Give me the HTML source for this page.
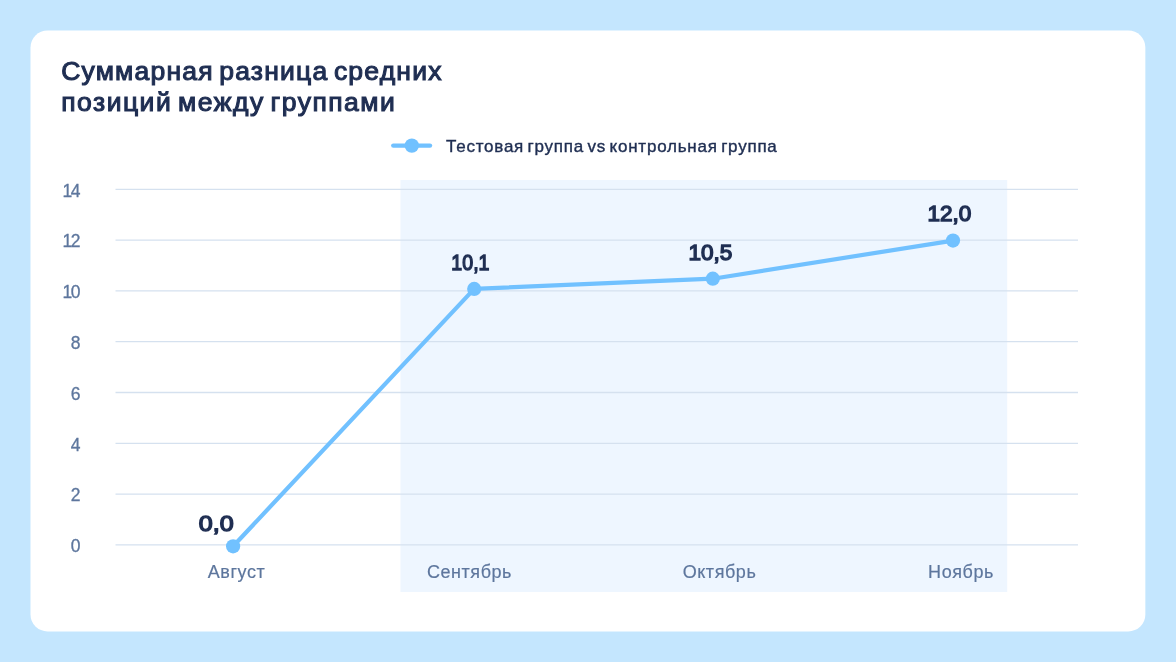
<!DOCTYPE html>
<html lang="ru">
<head>
<meta charset="utf-8">
<title>Суммарная разница средних позиций между группами</title>
<style>
  html, body { margin: 0; padding: 0; }
  body {
    width: 1176px; height: 662px; overflow: hidden;
    background: #c4e6fe;
    font-family: "Liberation Sans", sans-serif;
    position: relative;
  }
  .title {
    position: absolute; left: 61.2px; top: 55.5px;
    margin: 0; font-size: 26.5px; line-height: 31px; font-weight: 400;
    color: #1f2e52; letter-spacing: 0; white-space: nowrap;
    -webkit-text-stroke: 1.1px #1f2e52; word-spacing: -3px;
  }
  .legend {
    position: absolute; left: 446px; top: 136.5px;
    font-size: 17px; line-height: 20px; color: #1f2e52; white-space: nowrap;
    letter-spacing: 0.77px; word-spacing: -2px; -webkit-text-stroke: 0.4px #1f2e52;
  }
  svg.chart { position: absolute; left: 0; top: 0; z-index: 0; }
  .title, .legend, .ylab, .xlab, .val { z-index: 1; }
  .ylab {
    position: absolute; width: 40px; left: 40.5px; text-align: right;
    font-size: 17.5px; line-height: 18px; color: #5d769d; -webkit-text-stroke: 0.3px #5d769d;
  }
  .xlab {
    position: absolute; top: 561.7px; width: 120px; margin-left: -60px; text-align: center;
    font-size: 18px; line-height: 20px; color: #5d769d; white-space: nowrap;
    letter-spacing: 0.55px; -webkit-text-stroke: 0.2px #5d769d;
  }
  .ylab b { font-weight: 400; letter-spacing: -1.4px; }
  .val span { display: inline-block; }
  .val {
    position: absolute; width: 80px; margin-left: -40px; text-align: center;
    font-size: 22px; line-height: 26px; font-weight: 400; color: #1f2e52; -webkit-text-stroke: 1.4px #1f2e52;
    white-space: nowrap;
  }
</style>
</head>
<body>
  <h1 class="title"><span style="letter-spacing:1.2px">Суммарная разница средних</span><br><span style="letter-spacing:1.5px">позиций между группами</span></h1>

  <svg class="chart" width="1176" height="662" viewBox="0 0 1176 662">
    <rect x="30.5" y="30.55" width="1114.85" height="600.85" rx="17" ry="17" fill="#ffffff"/>
    <rect x="400.5" y="180" width="606.7" height="412" fill="#eef6ff"/>
    <g stroke="#d5e1ef" stroke-width="1.3">
      <line x1="115.5" x2="1078" y1="189.3" y2="189.3"/>
      <line x1="115.5" x2="1078" y1="240.1" y2="240.1"/>
      <line x1="115.5" x2="1078" y1="290.9" y2="290.9"/>
      <line x1="115.5" x2="1078" y1="341.7" y2="341.7"/>
      <line x1="115.5" x2="1078" y1="392.5" y2="392.5"/>
      <line x1="115.5" x2="1078" y1="443.3" y2="443.3"/>
      <line x1="115.5" x2="1078" y1="494.1" y2="494.1"/>
      <line x1="115.5" x2="1078" y1="544.9" y2="544.9"/>
    </g>
    <polyline points="233.1,546.3 474.2,288.9 712.8,278.7 953,240.6" fill="none" stroke="#71c1ff" stroke-width="4.2" stroke-linejoin="round" stroke-linecap="round"/>
    <g fill="#71c1ff">
      <circle cx="233.1" cy="546.3" r="7.1"/>
      <circle cx="474.2" cy="288.9" r="7.1"/>
      <circle cx="712.8" cy="278.7" r="7.1"/>
      <circle cx="953" cy="240.6" r="7.1"/>
      <circle cx="411.8" cy="145.6" r="7.2"/>
    </g>
    <line x1="393.3" x2="430" y1="145.6" y2="145.6" stroke="#71c1ff" stroke-width="4.4" stroke-linecap="round"/>
  </svg>

  <div class="legend">Тестовая группа vs контрольная группа</div>

  <div class="ylab" style="top:181.5px"><b>1</b>4</div>
  <div class="ylab" style="top:232.3px"><b>1</b>2</div>
  <div class="ylab" style="top:283.1px"><b>1</b>0</div>
  <div class="ylab" style="top:333.9px">8</div>
  <div class="ylab" style="top:384.7px">6</div>
  <div class="ylab" style="top:435.5px">4</div>
  <div class="ylab" style="top:486.3px">2</div>
  <div class="ylab" style="top:537.1px">0</div>

  <div class="xlab" style="left:236.5px">Август</div>
  <div class="xlab" style="left:469.5px">Сентябрь</div>
  <div class="xlab" style="left:719.5px">Октябрь</div>
  <div class="xlab" style="left:961px">Ноябрь</div>

  <div class="val" style="left:216.3px; top:511.4px"><span style="transform:scaleX(1.14)">0,0</span></div>
  <div class="val" style="left:470.3px; top:250px"><span style="transform:scaleX(0.89)">10,1</span></div>
  <div class="val" style="left:710.4px; top:240px"><span style="transform:scaleX(1.025)">10,5</span></div>
  <div class="val" style="left:949.6px; top:201.2px"><span style="transform:scaleX(1.025)">12,0</span></div>
</body>
</html>
